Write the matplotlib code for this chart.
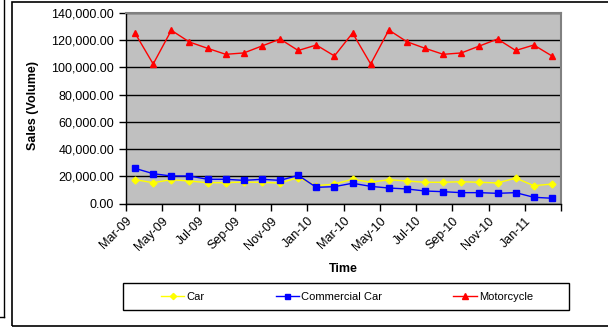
import matplotlib.pyplot as plt
from matplotlib.patches import Rectangle
from matplotlib.lines import Line2D
from matplotlib.ticker import FuncFormatter

plt.rcParams['font.family'] = ['Liberation Sans', 'DejaVu Sans']

# monthly sales, Mar-09 .. Feb-11
months = ["Mar-09", "Apr-09", "May-09", "Jun-09", "Jul-09", "Aug-09", "Sep-09", "Oct-09",
          "Nov-09", "Dec-09", "Jan-10", "Feb-10", "Mar-10", "Apr-10", "May-10", "Jun-10",
          "Jul-10", "Aug-10", "Sep-10", "Oct-10", "Nov-10", "Dec-10", "Jan-11", "Feb-11"]
car = [17600, 15400, 17600, 16600, 15400, 15400, 15900, 15600, 15200, 19100, 13200, 14400,
       17900, 15700, 17600, 16600, 15700, 15700, 16100, 15700, 15200, 18800, 13200, 14400]
commercial_car = [25900, 22000, 20300, 20300, 17900, 17900, 17100, 17900, 17100, 20800, 12000, 12500,
                  15000, 12700, 11500, 10800, 9300, 8800, 8100, 8100, 7600, 8100, 4700, 4000]
motorcycle = [125000, 102400, 127100, 118500, 113900, 109500, 110500, 115600, 120700, 112300, 116300, 108300,
              125100, 102400, 127300, 118700, 113900, 109500, 110500, 115600, 120700, 112300, 116300, 108300]
tick_labels = months[::2]

W, H = 608, 327
fig = plt.figure(figsize=(W / 100, H / 100), dpi=100)


def fx(px):
    return px / W


def fy(py):
    return 1 - py / H


# outer frames
fig.add_artist(Line2D([fx(4), fx(4)], [fy(0), fy(317)], color='black', lw=1))
fig.add_artist(Line2D([fx(0), fx(4)], [fy(317), fy(317)], color='black', lw=1))
fig.add_artist(Rectangle((fx(12), fy(326)), fx(620) - fx(12), fy(2) - fy(326),
                         fill=False, edgecolor='black', lw=1.2))

left, right, top, bottom = 126, 561, 12.7, 203.7
ax = fig.add_axes([fx(left), fy(bottom), fx(right) - fx(left), fy(top) - fy(bottom)])
ax.set_facecolor('#C0C0C0')

x = [i + 0.5 for i in range(len(months))]
ax.plot(x, car, color='#FFFF00', marker='D', markersize=3.5, lw=1, label='Car')
ax.plot(x, commercial_car, color='#0000FF', marker='s', markersize=4, lw=1, label='Commercial Car')
ax.plot(x, motorcycle, color='#FF0000', marker='^', markersize=5, lw=1, label='Motorcycle')

ax.set_xlim(0, len(months))
ax.set_ylim(0, 140000)
ax.set_yticks(range(0, 140001, 20000))
ax.yaxis.set_major_formatter(FuncFormatter(lambda v, p: f"{v:,.2f}"))
ax.set_xticks(range(0, len(months) + 1, 2))
ax.set_xticklabels(tick_labels + [""], rotation=45, ha='right', rotation_mode='anchor')
ax.tick_params(axis='both', labelsize=9, direction='out', length=5, width=1, color='black')
ax.tick_params(axis='x', pad=3)
ax.grid(axis='y', color='black', lw=1)
ax.set_axisbelow(True)

for side in ['top', 'right']:
    ax.spines[side].set_color('#808080')
    ax.spines[side].set_linewidth(1.5)
for side in ['left', 'bottom']:
    ax.spines[side].set_color('black')
    ax.spines[side].set_linewidth(1)

fig.text(fx(33), fy(105), "Sales (Volume)", rotation=90, ha='center', va='center',
         fontsize=9, fontweight='bold')
fig.text(fx(343.5), fy(269), "Time", ha='center', va='center', fontsize=9, fontweight='bold')

# legend box
fig.add_artist(Rectangle((fx(123), fy(310)), fx(569) - fx(123), fy(283) - fy(310),
                         fill=False, edgecolor='black', lw=1))
fig.legend(loc='center', bbox_to_anchor=(fx(347), fy(296.5)), ncol=3, frameon=False,
           fontsize=8, handlelength=2.1, handletextpad=0.2, columnspacing=6.4, markerscale=0.9)

fig.savefig('out.png', dpi=100)
